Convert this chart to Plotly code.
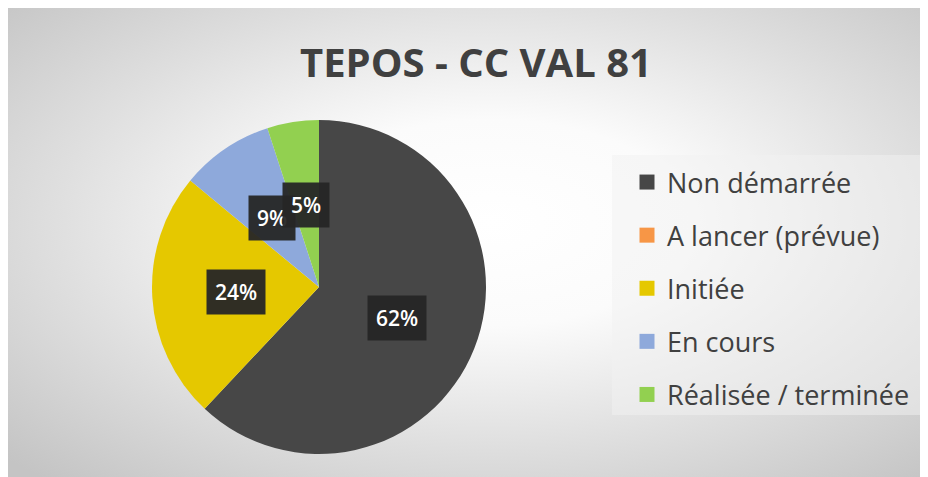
import base64
import math
import plotly.graph_objects as go

# ---- data ----
title_text = "TEPOS - CC VAL 81"
categories = ["Non démarrée", "A lancer (prévue)", "Initiée", "En cours", "Réalisée / terminée"]
values = [62, 0, 24, 9, 5]
colors = ["#474747", "#F79646", "#E5C800", "#8EA9DB", "#92D050"]

# ---- geometry (page pixels; page body adds an 8px margin) ----
W, H = 928, 477
OFF = 8


def fx(px):
    return (px - OFF) / W


def fy(py):
    return 1 - (py - OFF) / H


cx_px, cy_px, R_px = 319, 287, 167
dom_x = [fx(cx_px - R_px), fx(cx_px + R_px)]
dom_y = [fy(cy_px + R_px), fy(cy_px - R_px)]

fig = go.Figure()

fig.add_trace(go.Pie(
    labels=categories, values=values, sort=False, direction="clockwise", rotation=0,
    marker=dict(colors=colors, line=dict(width=0)),
    textinfo="none", showlegend=False, domain=dict(x=dom_x, y=dom_y),
    hovertemplate="%{label}: %{percent}<extra></extra>",
))

# legend entries (separate groups so spacing can be controlled)
for cat, col in zip(categories, colors):
    fig.add_trace(go.Scatter(
        x=[None], y=[None], mode="markers", name=cat, legendgroup=cat,
        marker=dict(symbol="square", size=15, color=col, line=dict(width=0)),
        hoverinfo="skip",
    ))

# percentage labels in dark boxes at half radius of each slice
total = sum(values)
cum = 0
annotations = []
for v in values:
    if v > 0:
        mid = (cum + v / 2) / total * 2 * math.pi
        px = cx_px + 0.5 * R_px * math.sin(mid)
        py = cy_px - 0.5 * R_px * math.cos(mid)
        annotations.append(dict(
            x=fx(px), y=fy(py), xref="paper", yref="paper", showarrow=False,
            text=f"{round(v / total * 100)}%", xanchor="center", yanchor="middle",
            font=dict(family="Open Sans", size=21, color="#ffffff", weight=600),
            bgcolor="rgba(38,38,38,0.95)", borderpad=8,
        ))
    cum += v

annotations.append(dict(
    x=fx(476), y=fy(62), xref="paper", yref="paper", showarrow=False,
    text=f"<b>{title_text}</b>", xanchor="center", yanchor="middle",
    font=dict(family="Open Sans", size=40, color="#404040"),
))

svg = ('<svg xmlns="http://www.w3.org/2000/svg" width="928" height="477" viewBox="0 0 928 477" '
       'preserveAspectRatio="none"><defs><radialGradient id="g" cx="0.52" cy="0.45" r="0.72">'
       '<stop offset="0" stop-color="#ffffff"/><stop offset="0.3" stop-color="#fbfbfb"/>'
       '<stop offset="0.65" stop-color="#dfdfdf"/><stop offset="1" stop-color="#c4c4c4"/>'
       '</radialGradient></defs><rect width="928" height="477" fill="url(#g)"/></svg>')
src = "data:image/svg+xml;base64," + base64.b64encode(svg.encode()).decode()

fig.update_layout(
    width=W, height=H, margin=dict(l=0, r=0, t=0, b=0),
    paper_bgcolor="#ffffff", plot_bgcolor="rgba(0,0,0,0)",
    xaxis=dict(visible=False), yaxis=dict(visible=False),
    images=[dict(source=src, xref="paper", yref="paper", x=0, y=1,
                 sizex=1, sizey=1, xanchor="left", yanchor="top",
                 sizing="stretch", layer="below")],
    shapes=[dict(type="rect", xref="paper", yref="paper", x0=fx(612), x1=fx(930),
                 y0=fy(415), y1=fy(155), fillcolor="rgba(242,242,242,0.5)",
                 line=dict(width=0), layer="below")],
    annotations=annotations,
    legend=dict(x=fx(627), y=fy(158), xanchor="left", yanchor="top",
                bgcolor="rgba(0,0,0,0)", tracegroupgap=15,
                font=dict(family="Open Sans", size=27, color="#404040")),
    showlegend=True,
)

fig.write_html(
    "out.html",
    post_script="document.documentElement.style.overflow='hidden';document.body.style.overflow='hidden';",
)
